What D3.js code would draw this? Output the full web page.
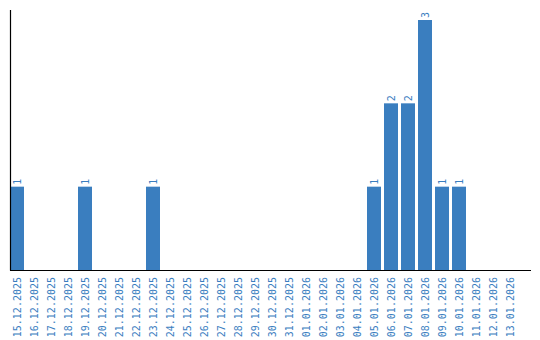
<!DOCTYPE html>
<html><head><meta charset="utf-8">
<script src="https://cdn.jsdelivr.net/npm/d3@7"></script>
<style>body{margin:0;background:#fff}svg{display:block}</style>
</head><body>
<script>
const dates = ["15.12.2025","16.12.2025","17.12.2025","18.12.2025","19.12.2025","20.12.2025","21.12.2025","22.12.2025","23.12.2025","24.12.2025","25.12.2025","26.12.2025","27.12.2025","28.12.2025","29.12.2025","30.12.2025","31.12.2025","01.01.2026","02.01.2026","03.01.2026","04.01.2026","05.01.2026","06.01.2026","07.01.2026","08.01.2026","09.01.2026","10.01.2026","11.01.2026","12.01.2026","13.01.2026"];
const counts = [1,0,0,0,1,0,0,0,1,0,0,0,0,0,0,0,0,0,0,0,0,1,2,2,3,1,1,0,0,0];

const W = 540, H = 340;
const color = "#3a7ebf";
const font = "DejaVu Sans Mono, Liberation Mono, monospace";
const svg = d3.select("body").append("svg").attr("width", W).attr("height", H);

const x = d3.scaleBand().domain(dates).range([10, 517]).paddingInner(3/17).paddingOuter(0);
const y = d3.scaleLinear().domain([0, 3]).range([270, 20]);

const data = dates.map((d, i) => ({d, v: counts[i]}));

svg.selectAll("rect.bar").data(data.filter(e => e.v > 0)).enter().append("rect")
  .attr("class", "bar")
  .attr("x", e => x(e.d)).attr("width", x.bandwidth())
  .attr("y", e => y(e.v)).attr("height", e => y(0) - y(e.v))
  .attr("fill", color);

svg.selectAll("text.val").data(data.filter(e => e.v > 0)).enter().append("text")
  .attr("class", "val")
  .attr("transform", e => `translate(${x(e.d) + x.bandwidth()/2 + 3.5},${y(e.v) - 2}) rotate(-90)`)
  .attr("font-family", font).attr("font-size", 10)
  .attr("fill", color).text(e => e.v);

// axes lines
svg.append("line").attr("x1", 10.5).attr("x2", 10.5).attr("y1", 10).attr("y2", 270.5)
  .attr("stroke", "#000").attr("stroke-width", 1.2);
svg.append("line").attr("x1", 10).attr("x2", 531).attr("y1", 270.5).attr("y2", 270.5)
  .attr("stroke", "#000").attr("stroke-width", 1.2);

// x tick labels
svg.selectAll("text.tick").data(dates).enter().append("text")
  .attr("class", "tick")
  .attr("transform", d => `translate(${x(d) + x.bandwidth()/2 + 3.5},277) rotate(-90)`)
  .attr("text-anchor", "end")
  .attr("font-family", font).attr("font-size", 10)
  .attr("fill", color).text(d => d);
</script>
</body></html>
